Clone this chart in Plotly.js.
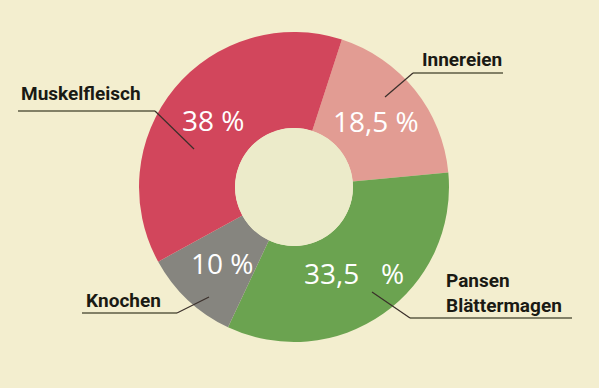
<!DOCTYPE html>
<html>
<head>
<meta charset="utf-8">
<script src="https://cdn.plot.ly/plotly-3.0.1.min.js"></script>
<style>
html,body{margin:0;padding:0;background:#f3eecf;}
#chart{width:599px;height:388px;}
</style>
</head>
<body>
<div id="chart"></div>
<script>
// Data (clockwise from the Muskelfleisch/Innereien boundary)
const categories = ["Innereien", "Pansen Blättermagen", "Knochen", "Muskelfleisch"];
const values = [18.5, 33.5, 10, 38];
const valueLabels = ["18,5 %", "33,5   %", "10 %", "38 %"];
const outerLabels = ["Innereien", "Pansen<br>Blättermagen", "Knochen", "Muskelfleisch"];

const colors = ["#e29c93", "#6ba350", "#86857f", "#d2465c"];
const bg = "#f3eecf";

// pie geometry (pixels)
const cx = 294, cy = 187, rOut = 155, holeFrac = 0.38, rotationDeg = 18;

const pie = {
  type: "pie",
  labels: categories,
  values: values,
  textinfo: "none",
  hoverinfo: "none",
  sort: false,
  direction: "clockwise",
  rotation: rotationDeg,
  hole: holeFrac,
  marker: {colors: colors, line: {width: 0}},
  domain: {x: [(cx - rOut)/599, (cx + rOut)/599], y: [1 - (cy + rOut)/388, 1 - (cy - rOut)/388]},
  showlegend: false
};

// percentage labels placed on each slice's bisector
const total = values.reduce((a, b) => a + b, 0);
const rText = rOut * (1 + holeFrac) / 2 * 0.98;
let cum = 0;
const pctAnnotations = values.map((v, i) => {
  const mid = (rotationDeg + (cum + v / 2) / total * 360) * Math.PI / 180;
  cum += v;
  return {
    x: cx + rText * Math.sin(mid), y: cy - rText * Math.cos(mid), xref: "x", yref: "y",
    text: valueLabels[i], showarrow: false, xanchor: "center", yanchor: "middle",
    font: {family: "Open Sans, sans-serif", size: 28, color: "#ffffff"}
  };
});

// Label placement (pixel layout coords on hidden axes)
const labelPos = [
  {x: 420, y: 59, ux0: 413, ux1: 503, uy: 73, px: 385, py: 97},
  {x: 444, y: 293, ux0: 410, ux1: 572, uy: 318, px: 372, py: 292},
  {x: 84, y: 300, ux0: 82, ux1: 177, uy: 313, px: 209, py: 297},
  {x: 19, y: 93, ux0: 18, ux1: 155, uy: 111, px: 194, py: 149}
];

const labelAnnotations = outerLabels.map((t, i) => ({
  x: labelPos[i].x, y: labelPos[i].y, xref: "x", yref: "y",
  text: t, showarrow: false, xanchor: "left", yanchor: "middle",
  font: {family: "Roboto, sans-serif", size: 19, color: "#1a1a14", weight: "bold"},
  align: "left"
}));

const shapes = [];
// hole shading
shapes.push({type: "circle", xref: "x", yref: "y", x0: 235, x1: 353, y0: 128, y1: 246,
  fillcolor: "#ecebca", line: {width: 0}, layer: "above"});
labelPos.forEach((p, i) => {
  const endX = (i === 0 || i === 1) ? p.ux0 : p.ux1;
  shapes.push({type: "line", xref: "x", yref: "y", x0: p.ux0, x1: p.ux1, y0: p.uy, y1: p.uy,
    line: {color: "#5d5b45", width: 1.6}, layer: "above"});
  shapes.push({type: "line", xref: "x", yref: "y", x0: endX, x1: p.px, y0: p.uy, y1: p.py,
    line: {color: "#3a2f2a", width: 1.2}, layer: "above"});
});

const layout = {
  width: 599, height: 388,
  margin: {l: 0, r: 0, t: 0, b: 0},
  paper_bgcolor: bg, plot_bgcolor: "rgba(0,0,0,0)",
  xaxis: {range: [0, 599], visible: false, fixedrange: true},
  yaxis: {range: [388, 0], visible: false, fixedrange: true},
  shapes: shapes,
  annotations: pctAnnotations.concat(labelAnnotations),
  showlegend: false
};

Plotly.newPlot("chart", [pie], layout, {displayModeBar: false, staticPlot: true});
</script>
</body>
</html>
